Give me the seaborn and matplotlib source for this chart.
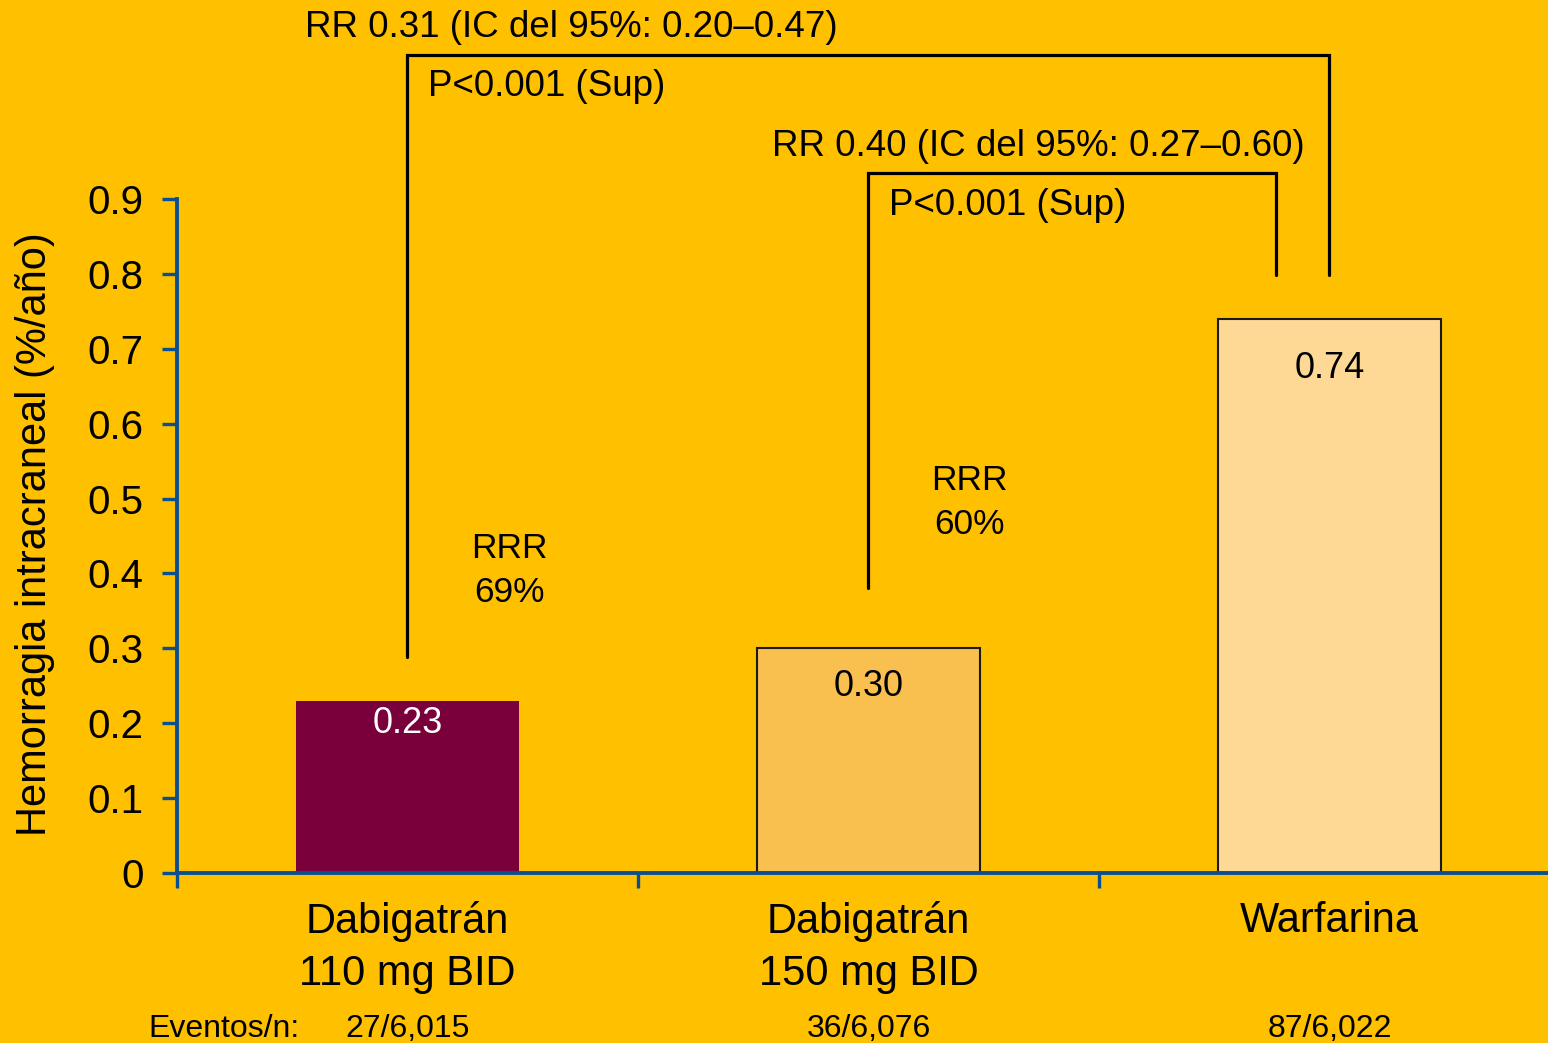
import matplotlib
matplotlib.use("Agg")
import matplotlib.pyplot as plt
import matplotlib.transforms as mtransforms
import seaborn as sns
import pandas as pd

# Data
categories = ["Dabigatrán\n110 mg BID", "Dabigatrán\n150 mg BID", "Warfarina"]
rates = [0.23, 0.30, 0.74]
events = ["27/6,015", "36/6,076", "87/6,022"]
rrr_text = [("RRR", "69%"), ("RRR", "60%")]
rr_text = ["RR 0.31 (IC del 95%: 0.20–0.47)", "RR 0.40 (IC del 95%: 0.27–0.60)"]
p_text = ["P<0.001 (Sup)", "P<0.001 (Sup)"]
y_ticks = [0, 0.1, 0.2, 0.3, 0.4, 0.5, 0.6, 0.7, 0.8, 0.9]
y_tick_labels = ["0", "0.1", "0.2", "0.3", "0.4", "0.5", "0.6", "0.7", "0.8", "0.9"]

# Style
BG = "#FFC000"
AXIS_BLUE = "#0B4F8E"
bar_colors = ["#7A003C", "#FAC04F", "#FDD995"]
value_colors = ["white", "black", "black"]

sns.set_theme(style="white")
plt.rcParams["font.family"] = ["Liberation Sans", "DejaVu Sans"]
plt.rcParams["text.color"] = "black"
plt.rcParams["axes.labelcolor"] = "black"
plt.rcParams["xtick.color"] = "black"
plt.rcParams["ytick.color"] = "black"

fig = plt.figure(figsize=(15.48, 10.43), dpi=100, facecolor=BG)
ax = fig.add_axes([0.1143, 0.163, 0.8934, 0.6462])
ax.set_facecolor(BG)

df = pd.DataFrame({"grupo": categories, "tasa": rates})
sns.barplot(data=df, x="grupo", y="tasa", hue="grupo", palette=bar_colors,
            saturation=1, width=0.485, legend=False, ax=ax)

for i, patch in enumerate(ax.patches):
    if i == 0:
        patch.set_edgecolor("none")
    else:
        patch.set_edgecolor("#1a1a1a")
        patch.set_linewidth(1.5)

ax.set_xlim(-0.5, 2.5)
ax.set_ylim(0, 0.9)

# Axes styling
for side in ["top", "right"]:
    ax.spines[side].set_visible(False)
for side in ["left", "bottom"]:
    ax.spines[side].set_color(AXIS_BLUE)
    ax.spines[side].set_linewidth(2.8)

ax.set_yticks(y_ticks)
ax.set_yticklabels(y_tick_labels, fontsize=29)
ax.tick_params(axis="y", which="major", direction="out", length=11, width=2.4,
               color=AXIS_BLUE, labelcolor="black", pad=13, left=True)

ax.set_xticks([0, 1, 2])
ax.set_xticklabels(categories, fontsize=30, linespacing=1.4)
ax.set_xticks([-0.5, 0.5, 1.5, 2.5], minor=True)
ax.tick_params(axis="x", which="major", length=0, pad=20, labelcolor="black")
ax.tick_params(axis="x", which="minor", direction="out", length=10.5, width=2.4,
               color=AXIS_BLUE, bottom=True)
ax.set_xlabel("")
ax.set_ylabel("Hemorragia intracraneal (%/año)", fontsize=30, color="black")
ax.yaxis.set_label_coords(-0.088, 0.503)

# Value labels inside the bars
value_y = [0.187, 0.236, 0.661]
for i, v in enumerate(rates):
    ax.text(i, value_y[i], f"{v:.2f}", ha="center", va="baseline",
            fontsize=26, color=value_colors[i])

# Comparison brackets
ax.plot([0, 0, 2, 2], [0.288, 1.092, 1.092, 0.798], color="black", lw=2.3,
        clip_on=False, solid_joinstyle="miter")
ax.plot([1, 1, 1.884, 1.884], [0.380, 0.935, 0.935, 0.798], color="black", lw=2.3,
        clip_on=False, solid_joinstyle="miter")

ax.text(0.355, 1.116, rr_text[0], ha="center", va="baseline", fontsize=26.5, clip_on=False)
ax.text(0.0445, 1.037, p_text[0], ha="left", va="baseline", fontsize=26.5, clip_on=False)
ax.text(1.369, 0.957, rr_text[1], ha="center", va="baseline", fontsize=26.5, clip_on=False)
ax.text(1.044, 0.878, p_text[1], ha="left", va="baseline", fontsize=26.5, clip_on=False)

# Relative risk reduction
rrr_pos = [(0.222, 0.421, 0.362), (1.220, 0.511, 0.452)]
for (x, y1, y2), (l1, l2) in zip(rrr_pos, rrr_text):
    ax.text(x, y1, l1, ha="center", va="baseline", fontsize=25.5)
    ax.text(x, y2, l2, ha="center", va="baseline", fontsize=25.5)

# Events row under the categories
trans = mtransforms.blended_transform_factory(ax.transData, fig.transFigure)
fig.text(148 / 1548, 0.0058, "Eventos/n:", ha="left", va="baseline", fontsize=23)
for i, e in enumerate(events):
    ax.text(i, 0.0058, e, transform=trans, ha="center", va="baseline", fontsize=23)

fig.savefig("out.png", dpi=100, facecolor=BG)
